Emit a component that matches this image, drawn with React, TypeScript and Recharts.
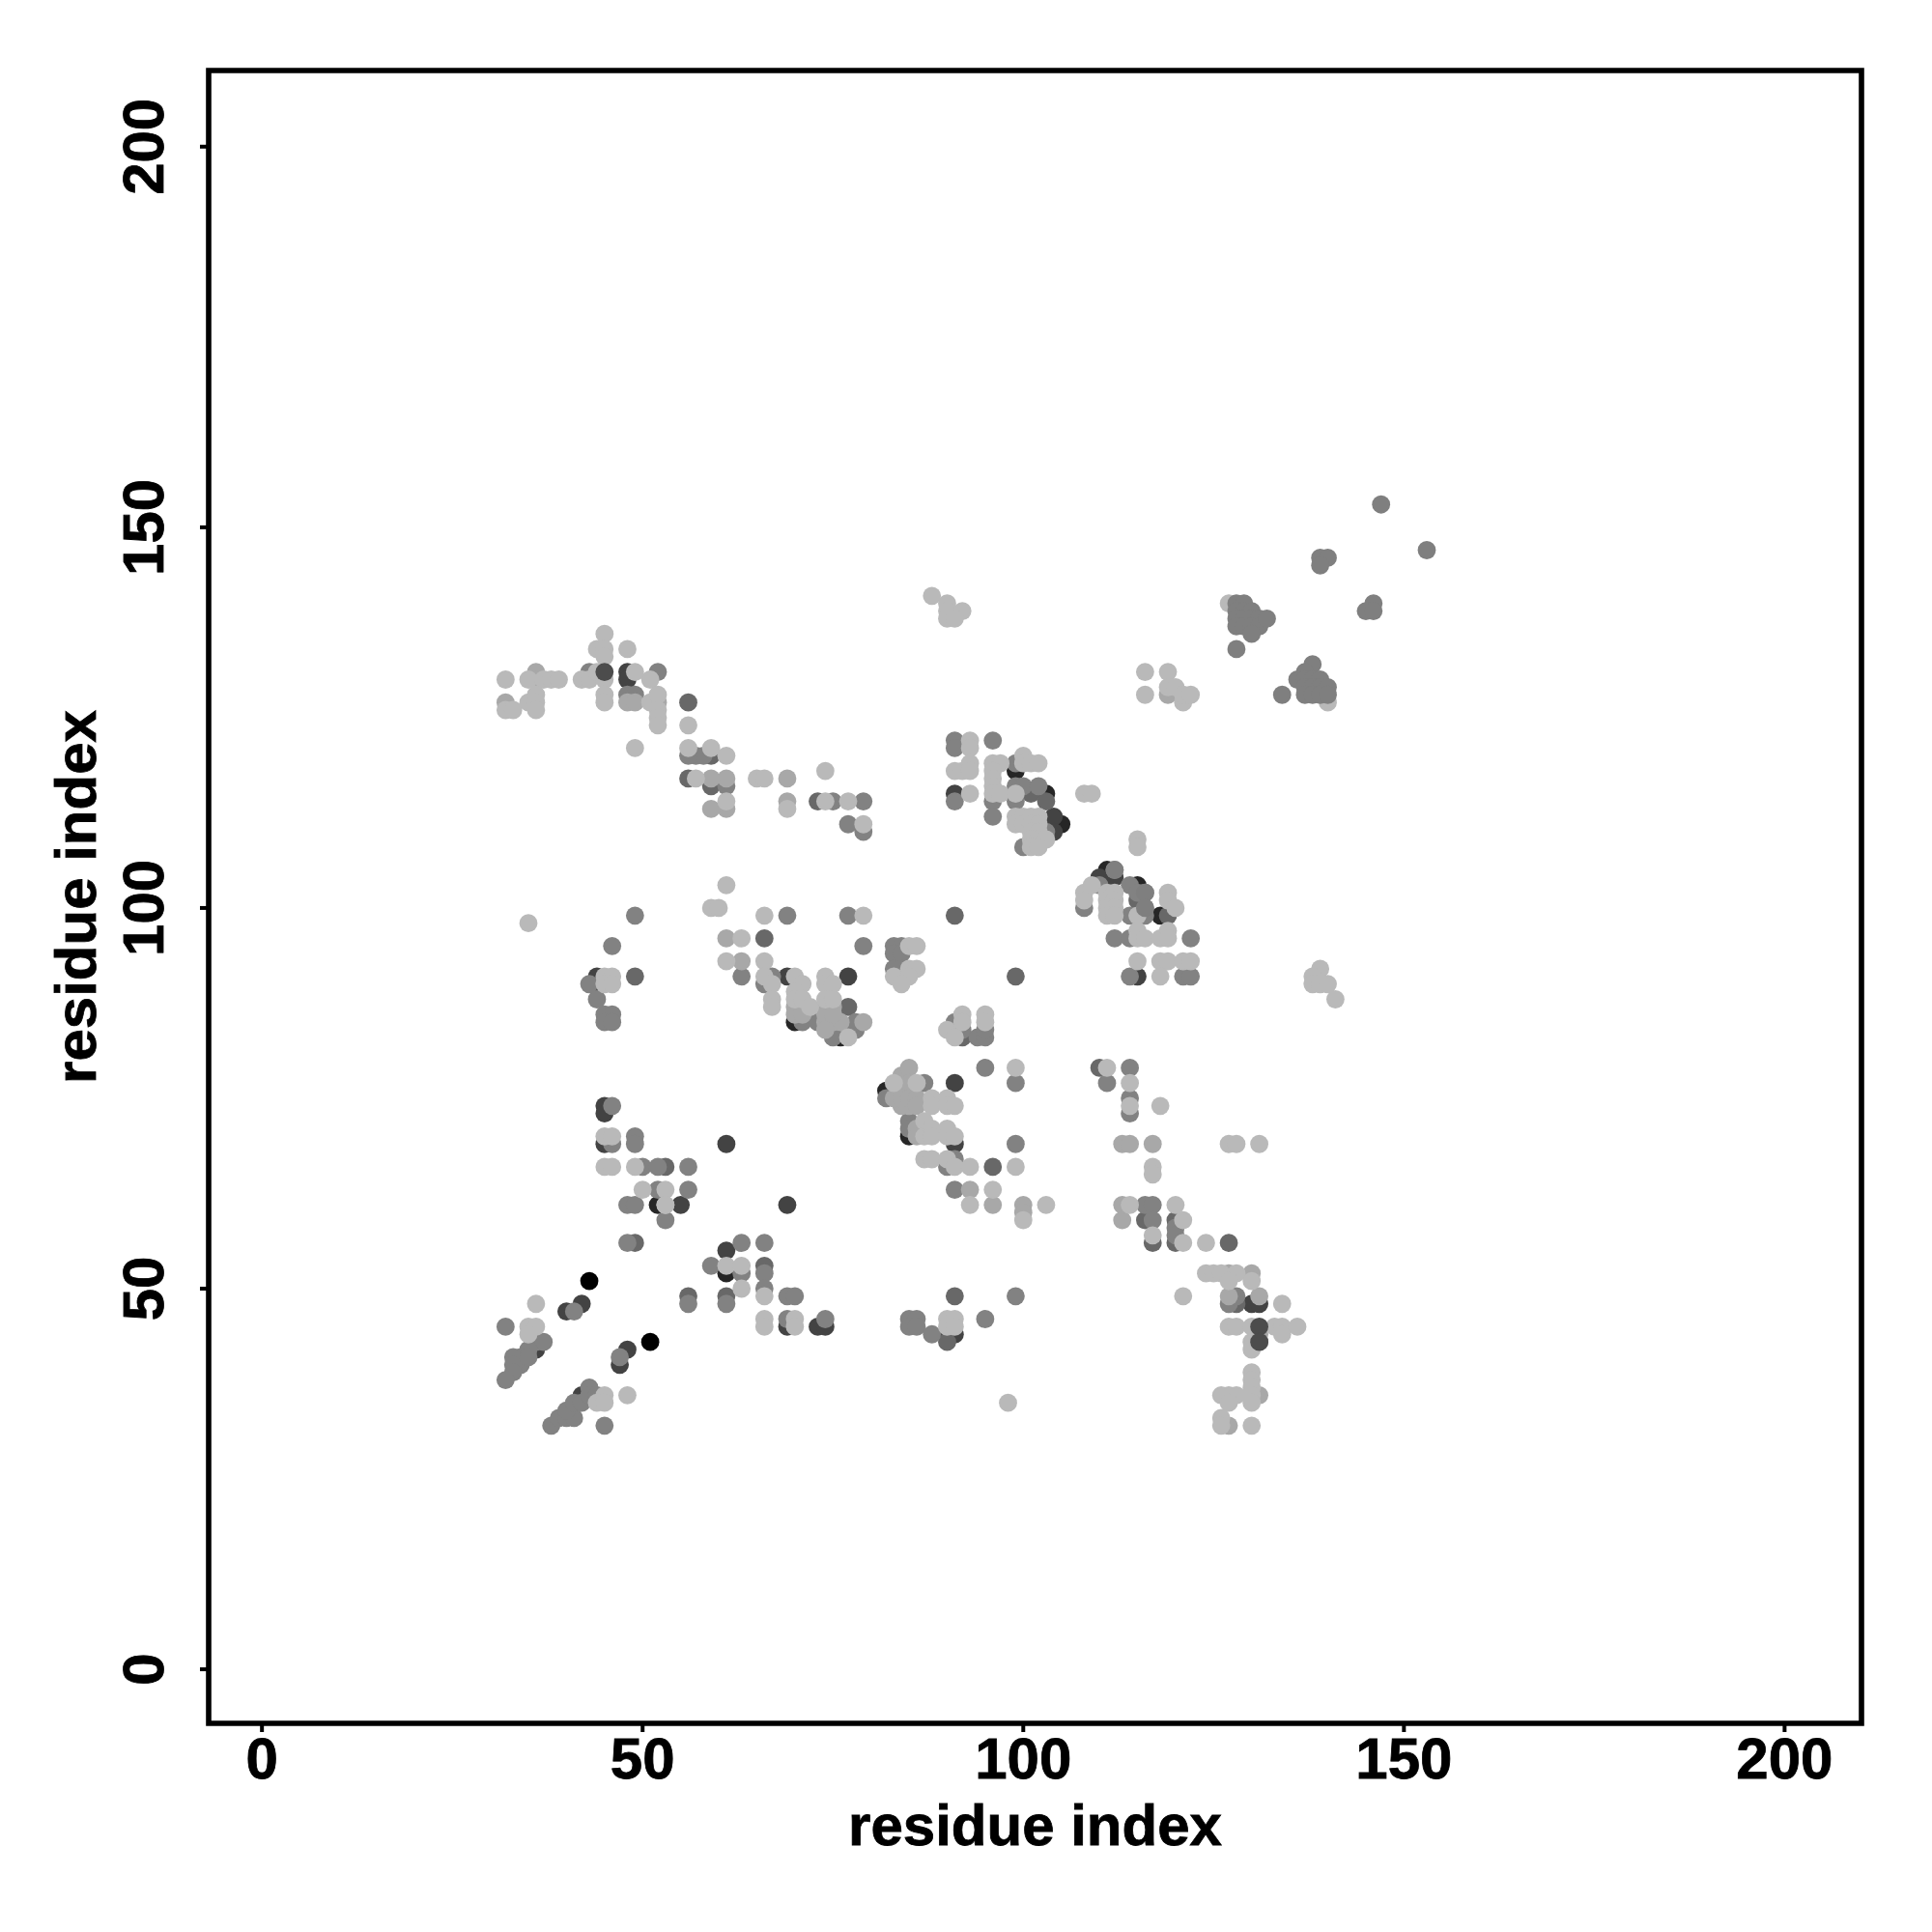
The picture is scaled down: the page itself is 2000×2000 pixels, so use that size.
import { ScatterChart, Scatter, XAxis, YAxis, ReferenceArea } from "recharts";

type Pt = [number, number];

const xTicks = [0, 50, 100, 150, 200];
const yTicks = [0, 50, 100, 150, 200];
const xDomain = [-7, 210.1];
const yDomain = [-7.1, 210];

// contacts grouped by grey level, drawn first to last
const pureBlack: Pt[] = [[43, 51], [51, 43]];
const nearBlack: Pt[] = [
  [52, 61], [61, 52], [70, 85], [76, 83], [99, 118], [103, 115], [104, 111], [105, 111],
  [118, 99], [111, 105], [111, 104], [115, 103], [82, 76], [85, 70],
];
const dark: Pt[] = [
  [40, 47], [42, 48], [36, 42], [48, 42], [47, 40], [42, 36], [61, 55], [69, 45], [73, 45], [74, 45],
  [55, 61], [90, 44], [91, 44], [130, 48], [131, 48], [45, 74], [45, 73], [45, 69], [61, 69], [69, 61],
  [91, 77], [91, 69], [44, 91], [44, 90], [69, 91], [77, 91], [110, 104], [112, 104], [115, 91],
  [48, 131], [48, 130], [91, 115], [104, 112], [104, 110],
];
const midDark: Pt[] = [
  [49, 56], [56, 49], [61, 49], [66, 53], [91, 49], [90, 43], [116, 59], [120, 59], [117, 56], [120, 56],
  [127, 56], [128, 48], [131, 43], [53, 66], [96, 66], [66, 96], [49, 91], [91, 99], [99, 91], [119, 99],
  [115, 101], [92, 83], [56, 127], [56, 117], [59, 120], [59, 116], [73, 114], [101, 115], [103, 114],
  [110, 79], [77, 87],
];
const mid: Pt[] = [
  [32, 45], [41, 47], [47, 41], [36, 43], [37, 43], [35, 42], [34, 41], [34, 40], [33, 41], [33, 40], [35, 41],
  [33, 39], [32, 38], [38, 32], [39, 33], [40, 33], [41, 33], [40, 34], [41, 35], [42, 35], [43, 37], [43, 36],
  [44, 36], [45, 32], [48, 56], [53, 59], [48, 61], [49, 61], [63, 56], [66, 56], [59, 53], [63, 52], [66, 52],
  [66, 50], [56, 48], [61, 48], [69, 49], [70, 49], [69, 46], [74, 46], [85, 46], [86, 46], [85, 45], [86, 45],
  [88, 44], [99, 49], [95, 46], [120, 58], [120, 57], [127, 48], [128, 49], [46, 74], [46, 69], [49, 70], [49, 69],
  [50, 66], [52, 66], [56, 66], [52, 63], [56, 63], [87, 77], [95, 79], [99, 77], [82, 75], [85, 72], [85, 71],
  [91, 67], [90, 66], [91, 63], [99, 69], [114, 79], [111, 77], [114, 75], [114, 73], [116, 61], [117, 61], [117, 59],
  [49, 99], [46, 95], [43, 90], [44, 88], [45, 86], [46, 86], [45, 85], [46, 85], [69, 99], [77, 99], [79, 95],
  [63, 91], [66, 90], [67, 91], [71, 85], [73, 85], [78, 84], [77, 84], [78, 85], [75, 83], [83, 95], [84, 95],
  [83, 94], [84, 94], [83, 92], [84, 92], [84, 91], [91, 85], [91, 84], [92, 84], [94, 83], [95, 83], [95, 84],
  [108, 100], [110, 103], [112, 105], [114, 103], [116, 102], [115, 102], [116, 100], [114, 99], [116, 99],
  [112, 96], [114, 96], [122, 96], [114, 91], [121, 91], [122, 91], [43, 131], [52, 131], [48, 128], [49, 128],
  [57, 120], [58, 120], [56, 120], [61, 116], [75, 114], [79, 114], [77, 111], [79, 110], [91, 122], [91, 121],
  [96, 122], [99, 119], [91, 114], [96, 114], [96, 112], [99, 116], [100, 116], [102, 116], [99, 114], [103, 110],
  [100, 108],
];
const soft: Pt[] = [
  [113, 59], [127, 52], [127, 49], [48, 127], [52, 127], [61, 96], [61, 117], [61, 113], [59, 113], [96, 61],
  [100, 61], [93, 63], [74, 85], [75, 85], [76, 85], [79, 85], [131, 36], [127, 32], [130, 52], [131, 49],
  [131, 44], [113, 69], [114, 69], [117, 69], [113, 61], [84, 78], [85, 79], [59, 117], [69, 117], [69, 114],
  [49, 127], [36, 131], [36, 130], [63, 93], [32, 127], [100, 60], [119, 128], [85, 74], [84, 74],
  [84, 77], [85, 77], [83, 75], [84, 75], [85, 75], [86, 75], [86, 74], [86, 71], [86, 70],
  [70, 87], [71, 87], [70, 86], [71, 86], [74, 87], [75, 87], [74, 86], [75, 86], [74, 84],
];
const light: Pt[] = [
  [36, 48], [35, 45], [36, 45], [35, 44], [44, 35], [45, 36], [45, 35], [48, 36], [53, 61], [61, 53], [63, 53],
  [63, 50], [66, 49], [66, 46], [66, 45], [70, 46], [70, 45], [90, 46], [91, 46], [90, 45], [91, 45], [98, 35],
  [93, 61], [100, 59], [103, 61], [121, 59], [117, 57], [121, 56], [124, 56], [124, 52], [125, 52], [126, 52],
  [128, 52], [127, 51], [130, 51], [121, 49], [134, 48], [127, 45], [128, 45], [130, 45], [133, 45], [134, 45],
  [134, 44], [136, 45], [130, 43], [130, 42], [130, 39], [130, 38], [130, 37], [130, 36], [130, 35], [126, 36],
  [127, 36], [128, 36], [127, 35], [126, 33], [126, 32], [130, 32], [45, 70], [46, 70], [45, 66], [46, 66],
  [49, 66], [50, 63], [53, 63], [53, 61], [99, 79], [83, 77], [86, 77],
  [88, 75], [88, 74], [90, 75], [90, 74], [91, 74], [87, 72],
  [87, 70], [88, 71], [88, 70], [90, 71], [90, 70], [91, 70], [87, 67], [88, 67], [90, 67], [91, 66], [93, 66],
  [99, 66], [96, 63], [127, 69], [128, 69], [131, 69], [117, 66], [117, 65], [111, 79],
  [114, 77], [114, 74], [118, 74], [114, 61], [120, 61], [35, 98], [45, 91], [46, 91], [45, 90],
  [46, 90], [61, 103], [59, 100], [60, 100], [66, 99], [79, 99], [63, 96], [61, 93], [66, 93], [66, 91], [67, 90],
  [67, 88], [67, 87], [70, 91], [71, 90], [70, 89], [70, 88], [71, 88], [72, 87],
  [74, 91], [74, 90], [75, 90], [74, 88], [75, 88],
  [77, 83], [85, 95], [86, 95], [85, 92], [86, 92], [83, 91], [85, 91], [84, 90], [90, 84], [92, 86], [92, 85],
  [91, 83], [95, 86], [95, 85], [108, 102], [108, 101], [109, 103], [111, 102], [112, 102], [111, 101], [112, 101],
  [111, 100], [112, 100], [111, 99], [112, 99], [115, 99], [119, 102], [119, 101], [120, 100], [115, 97], [115, 96],
  [116, 96], [118, 96], [119, 97], [119, 96], [115, 93], [118, 93], [119, 93], [121, 93], [122, 93], [118, 91],
  [139, 92], [138, 91], [138, 90], [139, 90], [140, 90], [141, 88], [45, 136], [44, 134], [45, 134], [45, 133],
  [48, 134], [32, 130], [35, 130], [37, 130], [38, 130], [39, 130], [42, 130], [43, 130], [44, 131], [45, 130],
  [51, 130], [32, 126], [33, 126], [35, 127], [36, 128], [36, 127], [36, 126], [45, 128], [45, 127], [51, 127],
  [52, 128], [52, 126], [52, 125], [52, 124], [56, 124], [49, 121], [56, 121], [59, 121], [61, 120], [57, 117],
  [65, 117], [66, 117], [74, 118], [61, 114], [69, 113], [74, 114], [77, 114], [79, 111], [88, 141], [90, 140],
  [90, 139], [92, 139], [90, 138], [91, 138], [93, 122], [93, 121], [91, 118], [92, 118], [93, 119], [93, 118],
  [96, 119], [97, 119], [96, 118], [96, 117], [100, 120], [100, 119], [101, 119], [102, 119], [93, 115], [96, 116],
  [96, 115], [97, 115], [99, 115], [108, 115], [109, 115], [99, 112], [100, 112], [101, 112], [102, 112], [99, 111],
  [100, 111], [101, 111], [102, 111], [101, 110], [102, 110], [101, 109], [102, 109], [103, 109], [101, 108], [102, 108],
  [115, 109], [115, 108], [116, 131], [119, 131], [116, 128], [119, 129], [120, 129], [121, 127], [121, 128], [122, 128],
  [127, 140], [140, 127], [49, 131],
];
// darker contacts that sit on top of lighter neighbours
const topDark: Pt[] = [[45, 131], [131, 45], [131, 43]];
const topMid: Pt[] = [
  [128, 140], [129, 140], [128, 139], [129, 139], [130, 139], [128, 138], [129, 138], [130, 138], [131, 138],
  [128, 137], [129, 137], [130, 137], [131, 137], [130, 136], [132, 138], [128, 134],
  [138, 132], [137, 131], [136, 130], [137, 130], [138, 130], [139, 130], [137, 129], [138, 129], [139, 129],
  [140, 129], [137, 128], [138, 128], [139, 128], [140, 128], [134, 128],
  [139, 146], [140, 146], [139, 145], [146, 140], [145, 139], [146, 139], [147, 153], [153, 147],
  [112, 105], [116, 102], [116, 100],
];

const series: { points: Pt[]; fill: string }[] = [
  { points: pureBlack, fill: "#000000" },
  { points: nearBlack, fill: "#262626" },
  { points: dark, fill: "#434343" },
  { points: midDark, fill: "#686868" },
  { points: mid, fill: "#828282" },
  { points: soft, fill: "#a8a8a8" },
  { points: light, fill: "#b9b9b9" },
  { points: topDark, fill: "#4c4c4c" },
  { points: topMid, fill: "#7f7f7f" },
];

const FONT = '"Liberation Sans", Arial, sans-serif';
const FONT_SIZE = 60;

const Dot = (fill: string) => (p: any) => <circle cx={p.cx} cy={p.cy} r={9.4} fill={fill} />;

const XTick = (p: any) => (
  <text
    x={p.x}
    y={p.y + 46}
    textAnchor="middle"
    fontFamily={FONT}
    fontWeight="bold"
    fontSize={FONT_SIZE}
    fill="#000"
    stroke="#000"
    strokeWidth={0.8}
  >
    {p.payload.value}
  </text>
);

const YTick = (p: any) => (
  <text
    x={p.x - 36}
    y={p.y}
    textAnchor="middle"
    fontFamily={FONT}
    fontWeight="bold"
    fontSize={FONT_SIZE}
    fill="#000"
    stroke="#000"
    strokeWidth={0.8}
    transform={`rotate(-90 ${p.x - 36} ${p.y})`}
  >
    {p.payload.value}
  </text>
);

const titleStyle = {
  fontFamily: FONT,
  fontWeight: "bold",
  fontSize: FONT_SIZE,
  fill: "#000",
  stroke: "#000",
  strokeWidth: 0.8,
};

export default function App() {
  return (
    <div style={{ position: "absolute", left: 0, top: 0, width: 2000, height: 2000, background: "#fff" }}>
      <ScatterChart width={2000} height={2000} margin={{ top: 73, right: 73, bottom: 0, left: 0 }}>
        <XAxis
          type="number"
          dataKey="x"
          domain={xDomain}
          ticks={xTicks}
          height={216}
          interval={0}
          allowDataOverflow
          axisLine={false}
          tickLine={{ stroke: "#000", strokeWidth: 4 }}
          tickSize={9}
          tick={XTick}
          label={{
            value: "residue index",
            position: "insideBottom",
            offset: 90,
            style: titleStyle,
          }}
        />
        <YAxis
          type="number"
          dataKey="y"
          domain={yDomain}
          ticks={yTicks}
          width={216}
          interval={0}
          allowDataOverflow
          axisLine={false}
          tickLine={{ stroke: "#000", strokeWidth: 4 }}
          tickSize={9}
          tick={YTick}
          label={{
            value: "residue index",
            angle: -90,
            position: "insideLeft",
            offset: 78,
            style: { ...titleStyle, textAnchor: "middle" },
          }}
        />
        {series.map((s, i) => (
          <Scatter
            key={i}
            data={s.points.map(([x, y]) => ({ x, y }))}
            shape={Dot(s.fill)}
            isAnimationActive={false}
          />
        ))}
        <ReferenceArea
          x1={xDomain[0]}
          x2={xDomain[1]}
          y1={yDomain[0]}
          y2={yDomain[1]}
          fill="none"
          stroke="#000"
          strokeWidth={5.6}
        />
      </ScatterChart>
    </div>
  );
}
